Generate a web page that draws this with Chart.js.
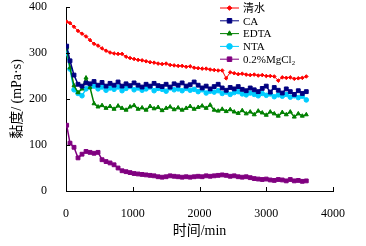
<!DOCTYPE html>
<html>
<head>
<meta charset="utf-8">
<script src="https://cdn.jsdelivr.net/npm/chart.js@4.4.1/dist/chart.umd.min.js"></script>
<style>
  html, body { margin: 0; padding: 0; background: #fff; }
  #wrap { width: 366px; height: 246px; }
</style>
</head>
<body>
<div id="wrap"><canvas id="viscChart" width="366" height="246"></canvas></div>
<script>
const times = [10, 60, 120, 180, 240, 300, 360, 420, 480, 540, 600, 660, 720, 780, 840, 900, 960, 1020, 1080, 1140,
  1200, 1260, 1320, 1380, 1440, 1500, 1560, 1620, 1680, 1740, 1800, 1860, 1920, 1980, 2040, 2100, 2160, 2220, 2280, 2340,
  2400, 2460, 2520, 2580, 2640, 2700, 2760, 2820, 2880, 2940, 3000, 3060, 3120, 3180, 3240, 3300, 3360, 3420, 3480, 3540, 3600];

const water = [368, 365, 357, 348, 342, 336, 328, 320, 316, 310, 305, 301, 299, 298, 298, 292, 289, 287, 285, 284,
  282, 280, 279, 277, 276, 277, 274, 273, 272, 272, 270, 271, 268, 267, 266, 266, 264, 263, 262, 262,
  245, 258, 256, 254, 255, 253, 252, 253, 251, 252, 250, 250, 249, 240, 247, 246, 247, 244, 245, 246, 249];

const ca = [315, 283, 252, 232, 228, 235, 233, 238, 230, 236, 228, 234, 230, 237, 228, 233, 229, 235, 230, 226,
  232, 228, 234, 229, 227, 232, 226, 233, 230, 235, 228, 231, 237, 230, 224, 228, 222, 227, 232, 224,
  219, 225, 222, 227, 221, 218, 224, 220, 216, 223, 228, 215, 225, 219, 213, 222, 216, 210, 218, 212, 216];

const edta = [311, 268, 229, 214, 222, 246, 225, 190, 183, 186, 180, 184, 178, 185, 180, 176, 183, 186, 178, 181,
  176, 184, 179, 182, 175, 180, 183, 177, 181, 176, 180, 184, 178, 182, 185, 180, 187, 176, 174, 178,
  173, 177, 172, 169, 175, 168, 172, 166, 174, 170, 165, 172, 168, 163, 171, 166, 172, 161, 168, 163, 166];

const nta = [300, 265, 220, 212, 207, 222, 226, 228, 222, 226, 219, 224, 221, 226, 218, 223, 227, 220, 224, 219,
  222, 226, 218, 223, 221, 217, 224, 220, 222, 218, 223, 219, 221, 216, 220, 213, 217, 215, 218, 212,
  215, 210, 214, 216, 211, 209, 213, 210, 207, 212, 208, 211, 205, 209, 206, 210, 204, 207, 203, 206, 198];

const mgcl2 = [143, 104, 95, 72, 80, 86, 84, 82, 84, 68, 64, 61, 57, 50, 44, 42, 40, 38, 37, 36,
  35, 34, 33, 31, 30, 31, 33, 32, 31, 30, 31, 30, 31, 32, 31, 33, 32, 33, 34, 35,
  34, 32, 33, 31, 30, 31, 29, 27, 26, 25, 26, 24, 23, 25, 24, 22, 25, 22, 23, 21, 22];

const xTicks = [0, 1000, 2000, 3000, 4000];
const yTicks = [0, 100, 200, 300, 400];

const seriesNames = ['清水', 'CA', 'EDTA', 'NTA', '0.2%MgCl₂'];
const seriesColors = ['#ff0000', '#000080', '#008000', '#00ccff', '#800080'];
const seriesMarkers = ['rectRot', 'rect', 'triangle', 'circle', 'rect'];
const seriesData = [water, ca, edta, nta, mgcl2];

const serif = '"Liberation Serif", "Times New Roman", "Noto Sans CJK SC", serif';

function toPoints(arr) {
  return arr.map((v, i) => ({ x: times[i], y: v }));
}

// short tick marks pointing into the plot, like the original figure
const innerTicks = {
  id: 'innerTicks',
  afterDatasetsDraw(chart) {
    const ctx = chart.ctx;
    const xs = chart.scales.x, ys = chart.scales.y;
    const area = chart.chartArea;
    ctx.save();
    ctx.strokeStyle = '#000';
    ctx.lineWidth = 1;
    ctx.beginPath();
    xTicks.forEach(t => {
      const px = Math.round(xs.getPixelForValue(t)) + 0.5;
      ctx.moveTo(px, area.bottom);
      ctx.lineTo(px, area.bottom - 4);
    });
    yTicks.forEach(t => {
      const py = Math.round(ys.getPixelForValue(t)) + 0.5;
      ctx.moveTo(area.left, py);
      ctx.lineTo(area.left + 4, py);
    });
    ctx.stroke();
    ctx.restore();
  }
};

// vertical legend inside the plot, top right
const sideLegend = {
  id: 'sideLegend',
  afterDraw(chart) {
    const ctx = chart.ctx;
    ctx.save();
    ctx.font = '11px ' + serif;
    ctx.textBaseline = 'middle';
    chart.data.datasets.forEach((ds, i) => {
      const y = 8 + i * 12.8;
      ctx.strokeStyle = ds.borderColor;
      ctx.fillStyle = ds.backgroundColor;
      ctx.lineWidth = 1;
      ctx.beginPath();
      ctx.moveTo(220, y);
      ctx.lineTo(239, y);
      ctx.stroke();
      Chart.helpers.drawPoint(ctx, {
        pointStyle: ds.pointStyle,
        radius: ds.pointRadius + 0.5,
        borderWidth: 1
      }, 229.5, y);
      ctx.fillStyle = '#000';
      ctx.fillText(ds.label, 243, y + 1);
    });
    ctx.restore();
  }
};

const ctx = document.getElementById('viscChart').getContext('2d');

new Chart(ctx, {
  type: 'line',
  data: {
    datasets: seriesNames.map((name, i) => ({
      label: name,
      data: toPoints(seriesData[i]),
      borderColor: seriesColors[i],
      backgroundColor: seriesColors[i],
      borderWidth: i === 0 ? 1 : 1.5,
      pointStyle: seriesMarkers[i],
      pointRadius: i === 0 ? 1.8 : (i === 1 || i === 4 ? 2.7 : 2.3),
      pointBorderWidth: 1,
      tension: 0
    }))
  },
  options: {
    responsive: false,
    animation: false,
    events: [],
    layout: { padding: { top: 7, right: 33, left: 0, bottom: 0 } },
    plugins: {
      legend: { display: false },
      tooltip: { enabled: false },
      sideLegend: {},
      innerTicks: {}
    },
    scales: {
      x: {
        type: 'linear',
        min: 0,
        max: 4000,
        afterFit: s => { s.height = 55; s.paddingLeft = 0; s.paddingRight = 0; },
        afterBuildTicks: s => { s.ticks = xTicks.map(v => ({ value: v })); },
        grid: { display: false },
        border: { display: true, color: '#000', width: 1 },
        ticks: { color: '#000', padding: 8, maxRotation: 0, callback: v => String(v), font: { family: serif, size: 12 } },
        title: {
          display: true,
          text: '时间/min',
          color: '#000',
          padding: { top: 4, bottom: 6 },
          font: { family: serif, size: 14 }
        }
      },
      y: {
        min: 0,
        max: 400,
        afterFit: s => { s.width = 66; s.paddingTop = 0; s.paddingBottom = 0; },
        afterBuildTicks: s => { s.ticks = yTicks.map(v => ({ value: v })); },
        grid: { display: false },
        border: { display: true, color: '#000', width: 1 },
        ticks: { color: '#000', padding: 11, callback: v => String(v), font: { family: serif, size: 12 } },
        title: {
          display: true,
          text: '黏度/ (mPa·s)',
          color: '#000',
          padding: { top: 9, bottom: 0 },
          font: { family: serif, size: 14 }
        }
      }
    }
  },
  plugins: [innerTicks, sideLegend]
});
</script>
</body>
</html>
